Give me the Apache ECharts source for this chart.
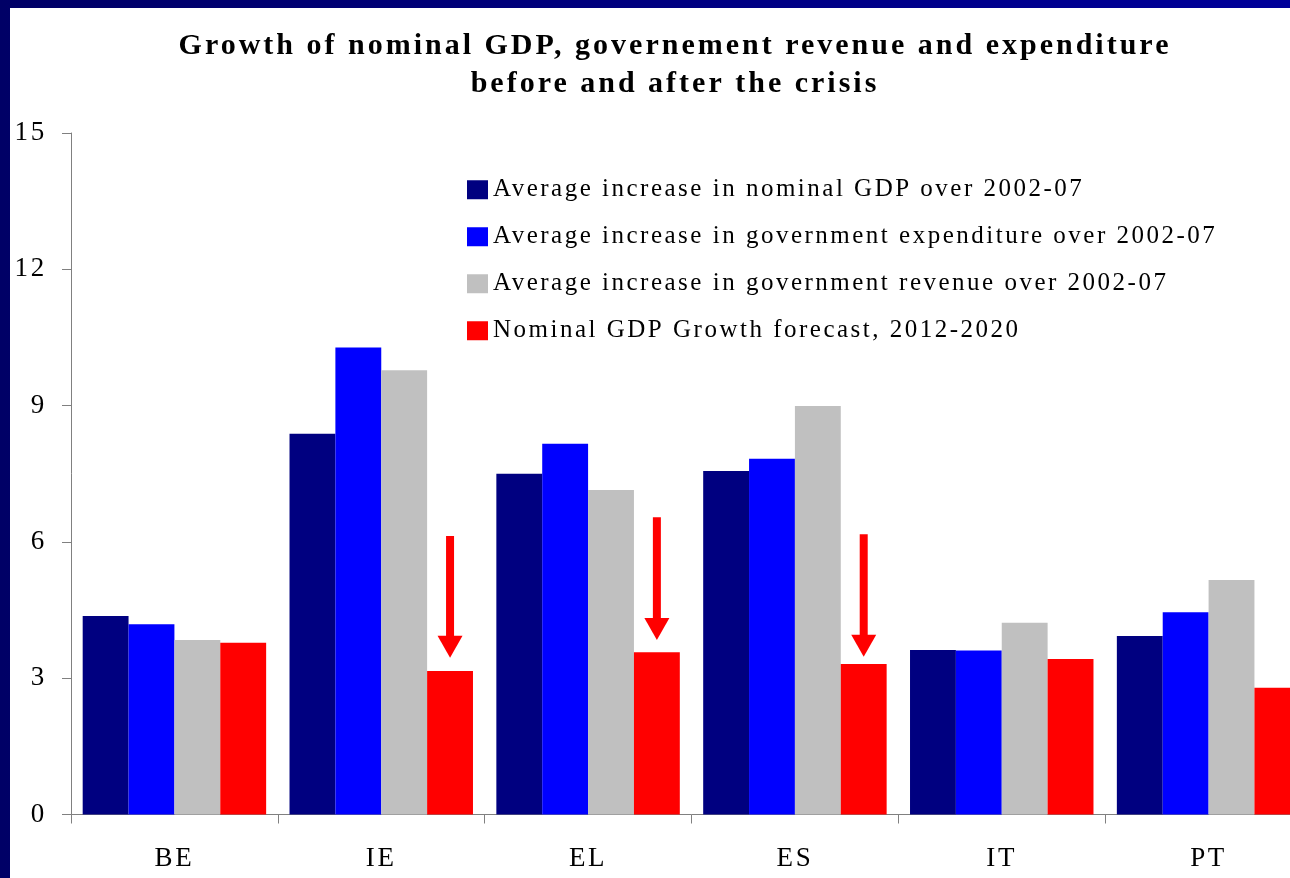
<!DOCTYPE html>
<html>
<head>
<meta charset="utf-8">
<script src="https://cdn.jsdelivr.net/npm/echarts@6/dist/echarts.min.js"></script>
<style>
  html, body { margin: 0; padding: 0; }
  body {
    width: 1290px; height: 878px; overflow: hidden;
    background: linear-gradient(to right, #000066, #000099);
    position: relative;
  }
  /* the plot runs past the right edge of the page, so the canvas is wider than the window */
  #chart {
    position: absolute; left: 10px; top: 8px;
    width: 1310px; height: 870px; background: #ffffff;
  }
</style>
</head>
<body>
<div id="chart"></div>
<script>
// Countries on the category axis
const countries = ['BE', 'IE', 'EL', 'ES', 'IT', 'PT'];

// Series names shown in the legend
const seriesNames = [
  'Average increase in nominal GDP over 2002-07',
  'Average increase in government expenditure over 2002-07',
  'Average increase in government revenue over 2002-07',
  'Nominal GDP Growth forecast, 2012-2020'
];

// Growth rates (%)
const gdpPre      = [4.37, 8.38, 7.50, 7.56, 3.62, 3.93];
const expenditure = [4.19, 10.28, 8.16, 7.83, 3.61, 4.45];
const revenue     = [3.84, 9.78, 7.14, 8.99, 4.22, 5.16];
const gdpForecast = [3.78, 3.16, 3.57, 3.31, 3.42, 2.79];

// Downward arrows above the forecast bars: [country, start value, tip value]
const arrows = [
  ['IE', 6.13, 3.45],
  ['EL', 6.54, 3.84],
  ['ES', 6.17, 3.47]
];

// y-axis scale
const yMin = 0, yMax = 15, yStep = 3;

const colors = ['#000080', '#0000ff', '#c0c0c0', '#ff0000'];
const serif = '"Liberation Serif", "DejaVu Serif", serif';
const barCategoryGap = 0.113;

// Spread canvas text out by 0.1em, like the tracked serif lettering of the slide
(function () {
  const proto = CanvasRenderingContext2D.prototype;
  if (!('letterSpacing' in proto)) return;
  const origFill = proto.fillText;
  const origMeasure = proto.measureText;
  function track(ctx) {
    const m = /(\d+(?:\.\d+)?)px/.exec(ctx.font);
    ctx.letterSpacing = m ? (parseFloat(m[1]) * 0.1).toFixed(2) + 'px' : '0px';
  }
  proto.fillText = function () { track(this); return origFill.apply(this, arguments); };
  proto.measureText = function () { track(this); return origMeasure.apply(this, arguments); };
})();

const chart = echarts.init(document.getElementById('chart'), null, { renderer: 'canvas' });

const barSeries = [gdpPre, expenditure, revenue, gdpForecast].map((vals, i) => ({
  name: seriesNames[i],
  type: 'bar',
  data: vals,
  barGap: '0%',
  barCategoryGap: (barCategoryGap * 100) + '%',
  itemStyle: { color: colors[i] },
  emphasis: { disabled: true }
}));

const arrowSeries = {
  type: 'custom',
  name: 'arrows',
  data: arrows,
  encode: { x: 0, y: [1, 2] },
  silent: true,
  z: 5,
  renderItem: function (params, api) {
    const cat = api.value(0);
    const top = api.coord([cat, api.value(1)]);
    const tip = api.coord([cat, api.value(2)]);
    const band = api.size([1, 0])[0];
    const barW = band * (1 - barCategoryGap) / 4;
    const cx = top[0] + barW * 1.5;
    const shaftW = 8, headW = 25, headH = 22;
    return {
      type: 'group',
      children: [
        {
          type: 'rect',
          shape: { x: cx - shaftW / 2, y: top[1], width: shaftW, height: tip[1] - headH - top[1] + 1 },
          style: { fill: '#ff0000' }
        },
        {
          type: 'polygon',
          shape: { points: [[cx - headW / 2, tip[1] - headH], [cx + headW / 2, tip[1] - headH], [cx, tip[1]]] },
          style: { fill: '#ff0000' }
        }
      ]
    };
  }
};

chart.setOption({
  animation: false,
  backgroundColor: '#ffffff',
  title: {
    text: 'Growth of nominal GDP, governement revenue and expenditure\nbefore and after the crisis',
    left: 660,
    top: 14,
    padding: 5,
    textAlign: 'center',
    textStyle: {
      fontFamily: serif,
      fontWeight: 'bold',
      fontSize: 30,
      lineHeight: 38,
      color: '#000000'
    }
  },
  legend: {
    orient: 'vertical',
    left: 452,
    top: 163,
    data: seriesNames,
    itemWidth: 21,
    itemHeight: 19,
    itemGap: 19.5,
    icon: 'rect',
    selectedMode: false,
    textStyle: {
      fontFamily: serif,
      fontSize: 25,
      lineHeight: 25,
      color: '#000000'
    }
  },
  grid: {
    left: 61,
    top: 125,
    bottom: 63.5,
    right: 8,
    containLabel: false
  },
  xAxis: {
    type: 'category',
    data: countries,
    axisLine: { lineStyle: { color: '#808080', width: 1 } },
    axisTick: { show: true, length: 9, alignWithLabel: false, lineStyle: { color: '#808080' } },
    axisLabel: { margin: 30, fontFamily: serif, fontSize: 27, color: '#000000' },
    splitLine: { show: false }
  },
  yAxis: {
    type: 'value',
    min: yMin,
    max: yMax,
    interval: yStep,
    axisLine: { show: true, lineStyle: { color: '#808080', width: 1 } },
    axisTick: { show: true, length: 9, lineStyle: { color: '#808080' } },
    axisLabel: { margin: 24, fontFamily: serif, fontSize: 27, color: '#000000' },
    splitLine: { show: false }
  },
  series: barSeries.concat([arrowSeries])
});
</script>
</body>
</html>
